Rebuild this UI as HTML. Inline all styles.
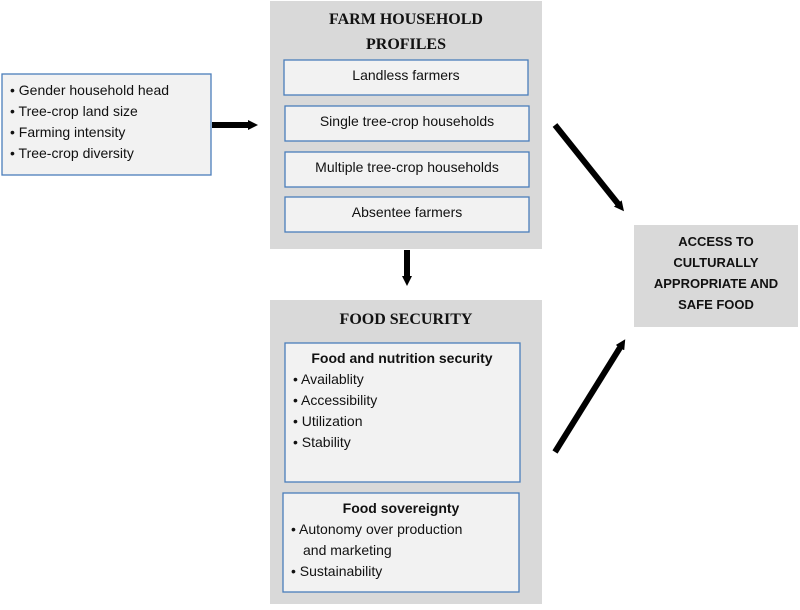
<!DOCTYPE html>
<html><head><meta charset="utf-8"><style>
body{margin:0;background:#fff;width:800px;height:605px;overflow:hidden}
svg text{font-family:"Liberation Sans",sans-serif;fill:#111}
.s{font-family:"Liberation Serif",serif;font-weight:bold;font-size:16px}
</style></head><body>
<svg width="800" height="605" viewBox="0 0 800 605" xmlns="http://www.w3.org/2000/svg">
<defs><marker id="ah" markerWidth="10" markerHeight="10" refX="2" refY="5" orient="auto" markerUnits="userSpaceOnUse" viewBox="0 0 10 10"><path d="M0,0 L10,5 L0,10z" fill="#000"/></marker></defs>
<rect x="270" y="1" width="272" height="248" fill="#d9d9d9"/>
<rect x="270" y="300" width="272" height="304" fill="#d9d9d9"/>
<rect x="634" y="225" width="164" height="102" fill="#d9d9d9"/>
<g fill="#f2f2f2" stroke="#4a7ebb" stroke-width="1.3">
<rect x="2" y="74" width="209" height="101"/>
<rect x="284" y="60" width="244" height="35"/>
<rect x="285" y="106" width="244" height="35"/>
<rect x="285" y="152" width="244" height="35"/>
<rect x="285" y="197" width="244" height="35"/>
<rect x="285" y="343" width="235" height="139"/>
<rect x="283" y="493" width="236" height="99"/>
</g>
<text class="s" x="406" y="24" text-anchor="middle">FARM HOUSEHOLD</text>
<text class="s" x="406" y="49" text-anchor="middle">PROFILES</text>
<text class="s" x="406" y="324" text-anchor="middle">FOOD SECURITY</text>
<g font-size="14">
<text x="10" y="95">• Gender household head</text>
<text x="10" y="116">• Tree-crop land size</text>
<text x="10" y="137">• Farming intensity</text>
<text x="10" y="158">• Tree-crop diversity</text>
<text x="406" y="80" text-anchor="middle">Landless farmers</text>
<text x="407" y="126" text-anchor="middle">Single tree-crop households</text>
<text x="407" y="172" text-anchor="middle">Multiple tree-crop households</text>
<text x="407" y="217" text-anchor="middle">Absentee farmers</text>
<text x="402" y="363" text-anchor="middle" font-weight="bold">Food and nutrition security</text>
<text x="293" y="384">• Availablity</text>
<text x="293" y="405">• Accessibility</text>
<text x="293" y="426">• Utilization</text>
<text x="293" y="447">• Stability</text>
<text x="401" y="513" text-anchor="middle" font-weight="bold">Food sovereignty</text>
<text x="291" y="534">• Autonomy over production</text>
<text x="303" y="555">and marketing</text>
<text x="291" y="576">• Sustainability</text>
<g font-weight="bold" text-anchor="middle" font-size="13">
<text x="716" y="246">ACCESS TO</text>
<text x="716" y="267">CULTURALLY</text>
<text x="716" y="288">APPROPRIATE AND</text>
<text x="716" y="309">SAFE FOOD</text>
</g>
</g>
<g stroke="#000" stroke-width="6" fill="none">
<line x1="212" y1="125" x2="250" y2="125" marker-end="url(#ah)"/>
<line x1="407" y1="250" x2="407" y2="278" marker-end="url(#ah)"/>
<line x1="555" y1="125" x2="619" y2="205" marker-end="url(#ah)"/>
<line x1="555" y1="452" x2="621" y2="346" marker-end="url(#ah)"/>
</g>
</svg>
</body></html>
